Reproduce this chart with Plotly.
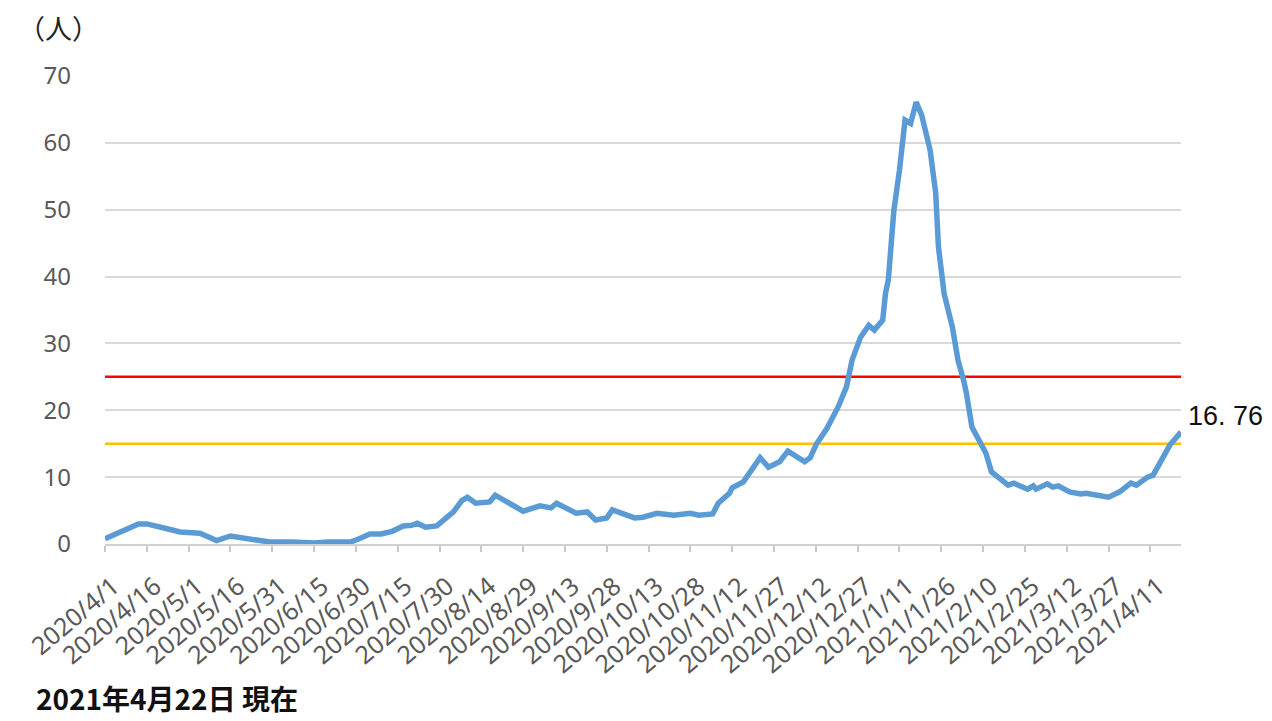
import pandas as pd
import plotly.graph_objects as go

# 7-day average per 100k residents (daily reading dates)
dates = [
    "2020/4/1", "2020/4/7", "2020/4/13", "2020/4/16", "2020/4/20", "2020/4/24", "2020/4/28",
    "2020/5/2", "2020/5/5", "2020/5/9", "2020/5/11", "2020/5/16", "2020/5/20", "2020/5/25",
    "2020/5/30", "2020/6/7", "2020/6/15", "2020/6/20", "2020/6/28", "2020/7/1", "2020/7/5",
    "2020/7/9", "2020/7/13", "2020/7/17", "2020/7/20", "2020/7/22", "2020/7/25", "2020/7/29",
    "2020/8/2", "2020/8/4", "2020/8/7", "2020/8/9", "2020/8/12", "2020/8/17", "2020/8/19",
    "2020/8/23", "2020/8/29", "2020/9/4", "2020/9/8", "2020/9/10", "2020/9/17", "2020/9/21",
    "2020/9/24", "2020/9/28", "2020/9/30", "2020/10/8", "2020/10/11", "2020/10/16",
    "2020/10/22", "2020/10/28", "2020/10/31", "2020/11/5", "2020/11/7", "2020/11/11",
    "2020/11/12", "2020/11/16", "2020/11/19", "2020/11/22", "2020/11/25", "2020/11/29",
    "2020/12/2", "2020/12/4", "2020/12/8", "2020/12/10", "2020/12/12", "2020/12/16",
    "2020/12/20", "2020/12/23", "2020/12/25", "2020/12/28", "2020/12/31", "2021/1/2",
    "2021/1/5", "2021/1/6", "2021/1/7", "2021/1/9", "2021/1/11", "2021/1/13", "2021/1/15",
    "2021/1/17", "2021/1/19", "2021/1/22", "2021/1/24", "2021/1/25", "2021/1/27",
    "2021/1/30", "2021/2/1", "2021/2/3", "2021/2/4", "2021/2/6", "2021/2/9", "2021/2/11",
    "2021/2/13", "2021/2/17", "2021/2/19", "2021/2/21", "2021/2/26", "2021/2/28",
    "2021/3/1", "2021/3/5", "2021/3/7", "2021/3/9", "2021/3/13", "2021/3/17", "2021/3/19",
    "2021/3/23", "2021/3/27", "2021/3/31", "2021/4/4", "2021/4/6", "2021/4/10",
    "2021/4/12", "2021/4/15", "2021/4/18", "2021/4/22",
]
values = [
    0.8, 1.8, 3.0, 3.0, 2.5, 2.2, 1.8,
    1.6, 1.6, 0.9, 0.5, 1.2, 1.0, 0.6,
    0.3, 0.3, 0.15, 0.3, 0.3, 0.75, 1.5,
    1.5, 1.9, 2.7, 2.8, 3.1, 2.5, 2.7,
    4.0, 4.8, 6.5, 7.0, 6.1, 6.3, 7.3,
    6.3, 4.9, 5.7, 5.4, 6.1, 4.6, 4.8,
    3.6, 3.9, 5.1, 3.9, 4.0, 4.6,
    4.3, 4.6, 4.3, 4.5, 6.1, 7.6,
    8.4, 9.3, 11.1, 12.9, 11.5, 12.3,
    13.9, 13.3, 12.3, 12.9, 14.8, 17.3,
    20.5, 23.5, 27.5, 30.9, 32.7, 32.0,
    33.5, 37.5, 39.5, 49.9, 55.9, 63.4, 62.9,
    66.1, 64.1, 58.9, 52.5, 44.4, 37.5,
    32.4, 27.5, 24.5, 22.6, 17.5, 15.1, 13.6,
    10.8, 9.3, 8.8, 9.1, 8.2, 8.7,
    8.2, 9.0, 8.5, 8.7, 7.8, 7.5, 7.6,
    7.3, 7.0, 7.8, 9.1, 8.8, 10.0,
    10.3, 12.6, 14.8, 16.76,
]

tick_labels = [
    "2020/4/1", "2020/4/16", "2020/5/1", "2020/5/16", "2020/5/31", "2020/6/15",
    "2020/6/30", "2020/7/15", "2020/7/30", "2020/8/14", "2020/8/29", "2020/9/13",
    "2020/9/28", "2020/10/13", "2020/10/28", "2020/11/12", "2020/11/27", "2020/12/12",
    "2020/12/27", "2021/1/11", "2021/1/26", "2021/2/10", "2021/2/25", "2021/3/12",
    "2021/3/27", "2021/4/11",
]

red_level = 25
yellow_level = 15
last_label = "16. 76"
y_unit = "（人）"
as_of = "2021年4月22日 現在"

x = pd.to_datetime(dates, format="%Y/%m/%d")
tick_x = pd.to_datetime(tick_labels, format="%Y/%m/%d")

grey = "#595959"

fig = go.Figure()
fig.add_trace(go.Scatter(
    x=x, y=values, mode="lines",
    line=dict(color="#5b9bd5", width=5.5, shape="linear"),
    hoverinfo="x+y", showlegend=False,
))

fig.add_shape(type="line", xref="paper", x0=0, x1=1, yref="y", y0=red_level, y1=red_level,
              line=dict(color="#ff0000", width=2.5), layer="below")
fig.add_shape(type="line", xref="paper", x0=0, x1=1, yref="y", y0=yellow_level, y1=yellow_level,
              line=dict(color="#ffc000", width=2.5), layer="below")

fig.add_annotation(x=x[-1], y=values[-1], text=last_label, showarrow=False,
                   xanchor="left", yanchor="middle", xshift=5, yshift=16,
                   font=dict(family="Liberation Sans, Arial, sans-serif",
                             size=27, color="#111111"))
fig.add_annotation(xref="paper", yref="paper", x=-0.083, y=1.103, text=y_unit,
                   showarrow=False, xanchor="left", yanchor="middle",
                   font=dict(family="Noto Sans CJK JP", size=27, color="#222222"))
fig.add_annotation(xref="paper", yref="paper", x=-0.066, y=-0.328, text=f"<b>{as_of}</b>",
                   showarrow=False, xanchor="left", yanchor="middle",
                   font=dict(family="Noto Sans CJK JP", size=28, color="#111111"))

fig.update_layout(
    width=1272, height=721,
    margin=dict(l=105, r=91, t=76, b=177),
    paper_bgcolor="white", plot_bgcolor="white",
    font=dict(family="Noto Sans, sans-serif", color=grey),
    xaxis=dict(
        type="date",
        range=[x[0], x[-1]],
        tickvals=tick_x, ticktext=tick_labels, tickangle=-40,
        tickfont=dict(size=25, color=grey),
        showgrid=False, zeroline=False,
        showline=True, linecolor="#d0d0d0", linewidth=2,
        ticks="outside", ticklen=6, tickcolor="#c8c8c8", tickwidth=1.5,
        ticklabelstandoff=10, ticklabelshift=8,
    ),
    yaxis=dict(
        range=[0, 70], tickvals=[0, 10, 20, 30, 40, 50, 60, 70],
        tickfont=dict(size=24, color=grey),
        showgrid=True, gridcolor="#d9d9d9", gridwidth=1.5,
        zeroline=False, showline=False, ticks="",
        ticklabelstandoff=33,
    ),
)

fig.write_html("out.html")
